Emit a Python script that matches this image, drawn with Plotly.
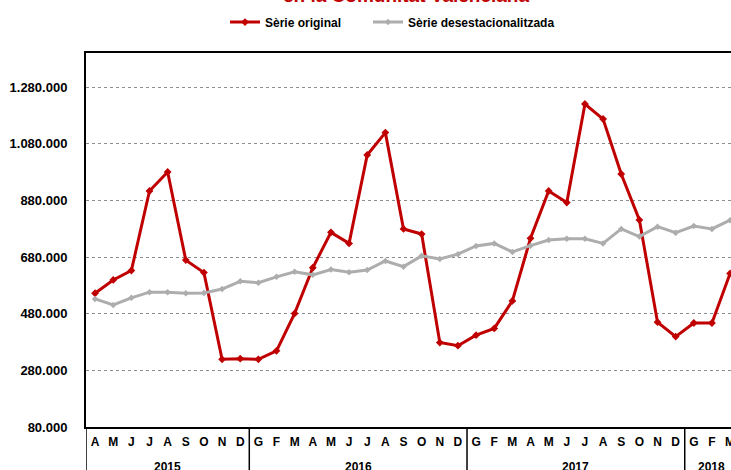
import plotly.graph_objects as go

# months shown on the axis (Catalan initials) and their year
months = ["A", "M", "J", "J", "A", "S", "O", "N", "D",
          "G", "F", "M", "A", "M", "J", "J", "A", "S", "O", "N", "D",
          "G", "F", "M", "A", "M", "J", "J", "A", "S", "O", "N", "D",
          "G", "F", "M"]
years = [2015] * 9 + [2016] * 12 + [2017] * 12 + [2018] * 3

# values in persons
serie_original = [552000, 599000, 632000, 913000, 980000, 669000, 625000, 319000, 321000,
                  319000, 349000, 481000, 642000, 767000, 728000, 1040000, 1119000, 779000, 761000, 378000, 367000,
                  404000, 428000, 525000, 746000, 913000, 872000, 1220000, 1167000, 973000, 811000, 450000, 399000,
                  447000, 447000, 622000]
serie_desest = [532000, 511000, 536000, 556000, 556000, 552000, 553000, 567000, 594000,
                589000, 610000, 628000, 617000, 636000, 626000, 634000, 666000, 646000, 684000, 673000, 690000,
                719000, 728000, 698000, 720000, 740000, 744000, 744000, 728000, 779000, 752000, 787000, 766000,
                789000, 779000, 810000]

y_ticks = [80000, 280000, 480000, 680000, 880000, 1080000, 1280000]

FONT = "Liberation Sans, Arial, sans-serif"
RED = "#C00000"
GREY = "#ADADAD"

x = list(range(len(months)))

fig = go.Figure()
fig.add_trace(go.Scatter(x=x, y=serie_original, name="Sèrie original",
                         mode="lines+markers", legend="legend",
                         line=dict(color=RED, width=3),
                         marker=dict(symbol="diamond", size=6, color=RED)))
fig.add_trace(go.Scatter(x=x, y=serie_desest, name="Sèrie desestacionalitzada",
                         mode="lines+markers", legend="legend2",
                         line=dict(color=GREY, width=3),
                         marker=dict(symbol="diamond", size=5, color=GREY)))

leg = dict(orientation="h", xref="container", yref="container",
           y=0.953, xanchor="left", yanchor="middle",
           font=dict(size=12, weight="bold"), bgcolor="rgba(0,0,0,0)")

fig.update_layout(
    width=731, height=470,
    margin=dict(l=86, r=0, t=53, b=43),
    plot_bgcolor="white", paper_bgcolor="white",
    font=dict(family=FONT, color="black", size=12),
    showlegend=True,
    legend=dict(leg, x=225 / 731),
    legend2=dict(leg, x=368 / 731),
)

fig.update_xaxes(
    range=[-0.5, 35.05], tickvals=x, ticktext=months,
    tickfont=dict(size=12, weight="bold"), ticks="", ticklabelstandoff=3,
    ticklabeloverflow="allow",
    showline=True, linecolor="black", linewidth=2, mirror=True,
    showgrid=False, zeroline=False, automargin=False,
)
fig.update_yaxes(
    range=[80000, 1400000], tickvals=y_ticks,
    ticktext=[f"{v:,}".replace(",", ".") for v in y_ticks],
    tickfont=dict(size=13, weight="bold"), ticks="", ticklabelstandoff=14,
    showline=True, linecolor="black", linewidth=2, mirror=True,
    showgrid=True, gridcolor="#8C8C8C", griddash="dot", gridwidth=1,
    zeroline=False, automargin=False,
)

# year separators below the axis and year labels
bounds = [-0.5] + [i - 0.5 for i in range(1, len(years)) if years[i] != years[i - 1]]
for b in bounds:
    fig.add_shape(type="line", xref="x", yref="paper", x0=b, x1=b, y0=0, y1=-0.2,
                  line=dict(color="black", width=1.5))
for yr in sorted(set(years)):
    idx = [i for i, v in enumerate(years) if v == yr]
    fig.add_annotation(x=sum(idx) / len(idx), y=-0.108, xref="x", yref="paper",
                       text=str(yr), showarrow=False, yanchor="middle",
                       font=dict(size=12, weight="bold"))

fig.add_annotation(x=0.496, y=1.155, xref="paper", yref="paper",
                   text="en la Comunitat Valenciana", showarrow=False,
                   yanchor="middle", font=dict(size=19, weight="bold", color=RED))

# the page body has a default 8px margin; drop it so the figure fills the window
fig.write_html("out.html", config={"displayModeBar": False},
               post_script="document.body.style.margin='0';")
